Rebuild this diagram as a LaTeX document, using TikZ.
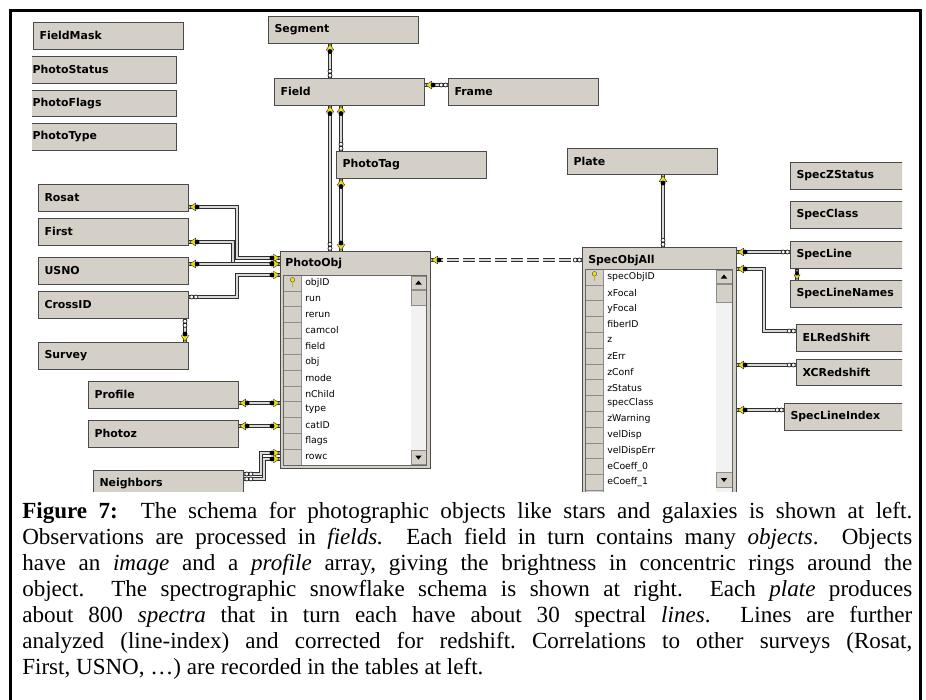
\documentclass[tikz,border=0pt]{standalone}
\usepackage{fontspec}
\setmainfont{Liberation Serif}
\newfontfamily\tblfont{DejaVu Sans}
\usetikzlibrary{calc}
\definecolor{boxgray}{HTML}{D4D0C8}
\definecolor{keyyel}{HTML}{F0E010}
\definecolor{edgegray}{HTML}{4A4A4A}
\newcommand\tblbold{\tblfont\bfseries\fontsize{8.2}{10}\selectfont}
\newcommand\tblrow{\tblfont\fontsize{7}{8}\selectfont}
\tikzset{
  tbl/.style={draw=edgegray, line width=0.8pt, fill=boxgray, anchor=north west,
    minimum height=19.875pt, text width=103.5pt, inner xsep=4.5pt, inner ysep=0pt,
    align=left, font=\tblbold},
  bigtbl/.style={draw=edgegray, line width=0.8pt, fill=boxgray, anchor=north west, inner sep=0pt},
  conn/.style={draw=black!82, line width=0.65pt, double=black!15, double distance=1.3pt},
  rowtxt/.style={anchor=west, inner sep=0pt, font=\tblrow},
  cell/.style={fill=boxgray, draw=black!45, line width=0.4pt},
  keyend/.pic={
    \filldraw[fill=keyyel, draw=black!80, line width=0.3pt] (0.6,0) -- (6.5,-3.8) -- (6.5,3.8) -- cycle;
    \filldraw[fill=black, draw=black] (8,0) circle (2.1);
  },
  infend/.pic={
    \filldraw[fill=white, draw=black!85, line width=0.55pt] (2.6,0) circle (2) (6.8,0) circle (2);
  },
  keyicon/.pic={
    \filldraw[fill=keyyel, draw=black!70, line width=0.3pt] (0,-2.2) circle (2.3);
    \fill[keyyel!80!black] (-0.7,-0.2) rectangle (0.7,4.5);
  }
}
\begin{document}
\begin{tikzpicture}[x=0.75pt,y=-0.75pt]
\useasboundingbox (0,0) rectangle (926,700);
\fill[white] (0,0) rectangle (926,700);
\begin{scope}
\clip (32,12) rectangle (902,491);
% simple tables
\node[tbl] (fieldmask) at (33,22) {FieldMask};
\node[tbl] (photostatus) at (26,56) {PhotoStatus};
\node[tbl] (photoflags) at (26,89.5) {PhotoFlags};
\node[tbl] (phototype) at (26,123) {PhotoType};
\node[tbl] (segment) at (268,16) {Segment};
\node[tbl] (field) at (274,78) {Field};
\node[tbl] (frame) at (448,78) {Frame};
\node[tbl] (phototag) at (336,151) {PhotoTag};
\node[tbl] (plate) at (567,147.5) {Plate};
\node[tbl] (rosat) at (38,184) {Rosat};
\node[tbl] (first) at (38,218) {First};
\node[tbl] (usno) at (38,257) {USNO};
\node[tbl] (crossid) at (38,291) {CrossID};
\node[tbl] (survey) at (38,342) {Survey};
\node[tbl] (profile) at (88,381) {Profile};
\node[tbl] (photoz) at (88,420) {Photoz};
\node[tbl] (neighbors) at (93,470) {Neighbors};
\node[tbl] (speczstatus) at (790,162) {SpecZStatus};
\node[tbl] (specclass) at (790,201) {SpecClass};
\node[tbl] (specline) at (790,241) {SpecLine};
\node[tbl] (speclinenames) at (790,280) {SpecLineNames};
\node[tbl] (elredshift) at (796,324) {ELRedShift};
\node[tbl] (xcredshift) at (796,358.5) {XCRedshift};
\node[tbl] (speclineindex) at (784,403) {SpecLineIndex};
% PhotoObj table
\node[bigtbl, minimum width=112.5pt, minimum height=162.75pt] (photoobj) at (280,251) {};
\node[anchor=west, inner sep=0pt, font=\tblbold] (photoobjtitle) at (285,264) {PhotoObj};
\fill[white] (302,275) rectangle (411,465);
\foreach \i in {0,...,11} \draw[cell] (283.5,{275+15.83*\i}) rectangle (301.5,{275+15.83*(\i+1)});
\fill[black!5] (411,275) rectangle (426,465);
\draw[cell] (411,276) rectangle (426,289);
\draw[cell] (411,290) rectangle (426,305);
\draw[cell] (411,450) rectangle (426,464);
\fill (418.5,280.5) -- (415.3,284.5) -- (421.7,284.5) -- cycle;
\fill (418.5,459.5) -- (415.3,455.5) -- (421.7,455.5) -- cycle;
\draw[black!60, line width=0.5pt] (283.5,275) rectangle (426,465);
\pic at (292.5,282) {keyicon};
\foreach \t [count=\i from 0] in {objID,run,rerun,camcol,field,obj,mode,nChild,type,catID,flags,rowc}
  \node[rowtxt] (po\i) at (305,{282.9+15.83*\i}) {\t};
% SpecObjAll table
\node[bigtbl, minimum width=115.5pt, minimum height=195pt] (specobjall) at (582,247) {};
\node[anchor=west, inner sep=0pt, font=\tblbold] (specobjalltitle) at (588,261) {SpecObjAll};
\fill[white] (604,269) rectangle (716,510);
\foreach \i in {0,...,14} \draw[cell] (585.5,{269+15.8*\i}) rectangle (603.5,{269+15.8*(\i+1)});
\fill[black!5] (716,269) rectangle (732,510);
\draw[cell] (716,270) rectangle (732,283);
\draw[cell] (716,284) rectangle (732,302);
\draw[cell] (716,472) rectangle (732,487);
\fill (724,274.5) -- (720.8,278.5) -- (727.2,278.5) -- cycle;
\fill (724,482) -- (720.8,478) -- (727.2,478) -- cycle;
\draw[black!60, line width=0.5pt] (585.5,269) rectangle (732,510);
\pic at (594.5,276) {keyicon};
\foreach \t [count=\i from 0] in {specObjID,xFocal,yFocal,fiberID,z,zErr,zConf,zStatus,specClass,zWarning,velDisp,velDispErr,eCoeff\_0,eCoeff\_1}
  \node[rowtxt] (so\i) at (607,{277+15.8*\i}) {\t};
% connector end points
\coordinate (c1a) at ($(segment.south west)+(62,0)$);
\coordinate (c1b) at ($(field.north west)+(56,0)$);
\coordinate (c2a) at ($(field.north east)+(0,7)$);
\coordinate (c2b) at ($(frame.north west)+(0,7)$);
\coordinate (c3a) at ($(field.south west)+(56,0)$);
\coordinate (c3b) at ($(photoobj.north west)+(50,0)$);
\coordinate (c4a) at ($(field.south west)+(67,0)$);
\coordinate (c4b) at ($(phototag.north west)+(5,0)$);
\coordinate (c5a) at ($(phototag.south west)+(5,0)$);
\coordinate (c5b) at ($(photoobj.north west)+(61,0)$);
\coordinate (c6a) at ($(rosat.north east)+(0,23)$);
\coordinate (c6b) at ($(photoobj.north west)+(0,7)$);
\coordinate (c7a) at ($(first.north east)+(0,24)$);
\coordinate (c7b) at ($(photoobj.north west)+(0,12.5)$);
\coordinate (c8a) at ($(usno.north east)+(0,7)$);
\coordinate (c8b) at ($(photoobj.north west)+(0,13)$);
\coordinate (c9a) at ($(crossid.north east)+(0,6)$);
\coordinate (c9b) at ($(photoobj.north west)+(0,24)$);
\coordinate (c10a) at ($(crossid.south west)+(147,0)$);
\coordinate (c10b) at ($(survey.north west)+(147,0)$);
\coordinate (c11a) at ($(profile.north east)+(0,22)$);
\coordinate (c11b) at ($(photoobj.north west)+(0,152)$);
\coordinate (c12a) at ($(photoz.north east)+(0,6)$);
\coordinate (c12b) at ($(photoobj.north west)+(0,175)$);
\coordinate (c13a) at ($(neighbors.north east)+(0,4)$);
\coordinate (c13b) at ($(photoobj.north west)+(0,202)$);
\coordinate (c14a) at ($(neighbors.north east)+(0,9)$);
\coordinate (c14b) at ($(photoobj.north west)+(0,208)$);
\coordinate (c15a) at ($(photoobj.north east)+(0,9)$);
\coordinate (c15b) at ($(specobjall.north west)+(0,13)$);
\coordinate (c16a) at ($(plate.south west)+(96,0)$);
\coordinate (c16b) at ($(specobjall.north west)+(81,0)$);
\coordinate (c17a) at ($(specobjall.north east)+(0,5)$);
\coordinate (c17b) at ($(specline.north west)+(0,11)$);
\coordinate (c18a) at ($(specline.south west)+(7,0)$);
\coordinate (c18b) at ($(speclinenames.north west)+(7,0)$);
\coordinate (c19a) at ($(specobjall.north east)+(0,22)$);
\coordinate (c19b) at ($(elredshift.north west)+(0,7)$);
\coordinate (c20a) at ($(specobjall.north east)+(0,118)$);
\coordinate (c20b) at ($(xcredshift.north west)+(0,6.5)$);
\coordinate (c21a) at ($(specobjall.north east)+(0,163)$);
\coordinate (c21b) at ($(speclineindex.north west)+(0,7)$);
% connectors
\draw[conn] (c1a) -- (c1b);
\draw[conn] (c2a) -- (c2b);
\draw[conn] (c3a) -- (c3b);
\draw[conn] (c4a) -- (c4b);
\draw[conn] (c5a) -- (c5b);
\draw[conn] (c6a) -- ++(48,0) |- (c6b);
\draw[conn] (c7a) -- ++(44,0) |- (c7b);
\draw[conn] (c8a) -- (c8b);
\draw[conn] (c9a) -- ++(48,0) |- (c9b);
\draw[conn] (c10a) -- (c10b);
\draw[conn] (c11a) -- (c11b);
\draw[conn] (c12a) -- (c12b);
\draw[conn] (c13a) -- ++(17,0) |- (c13b);
\draw[conn] (c14a) -- ++(20,0) |- (c14b);
\draw[conn, dash pattern=on 9pt off 3pt] (c15a) -- (c15b);
\draw[conn] (c16a) -- (c16b);
\draw[conn] (c17a) -- (c17b);
\draw[conn] (c18a) -- (c18b);
\draw[conn] (c19a) -- ++(27,0) |- (c19b);
\draw[conn] (c20a) -- (c20b);
\draw[conn] (c21a) -- (c21b);
% end symbols
\pic[rotate=-90] at (c1a) {keyend};  \pic[rotate=90] at (c1b) {infend};
\pic at (c2a) {keyend};              \pic[rotate=180] at (c2b) {infend};
\pic[rotate=-90] at (c3a) {keyend};  \pic[rotate=90] at (c3b) {infend};
\pic[rotate=-90] at (c4a) {keyend};  \pic[rotate=90] at (c4b) {infend};
\pic[rotate=-90] at (c5a) {keyend};  \pic[rotate=90] at (c5b) {keyend};
\pic at (c6a) {keyend};  \pic[rotate=180] at (c6b) {keyend};
\pic at (c7a) {keyend};  \pic[rotate=180] at (c7b) {keyend};
\pic at (c8a) {keyend};  \pic[rotate=180] at (c8b) {keyend};
\pic at (c9a) {infend};  \pic[rotate=180] at (c9b) {keyend};
\pic[rotate=-90] at (c10a) {infend};  \pic[rotate=90] at (c10b) {keyend};
\pic at (c11a) {keyend};  \pic[rotate=180] at (c11b) {keyend};
\pic at (c12a) {keyend};  \pic[rotate=180] at (c12b) {keyend};
\pic at (c13a) {infend};  \pic[rotate=180] at (c13b) {keyend};
\pic at (c14a) {infend};  \pic[rotate=180] at (c14b) {keyend};
\pic at (c15a) {keyend};  \pic[rotate=180] at (c15b) {infend};
\pic[rotate=-90] at (c16a) {keyend};  \pic[rotate=90] at (c16b) {infend};
\pic at (c17a) {keyend};  \pic[rotate=180] at (c17b) {infend};
\pic[rotate=-90, scale=0.7] at (c18a) {infend};  \pic[rotate=90, scale=0.8] at (c18b) {keyend};
\pic at (c19a) {keyend};  \pic[rotate=180] at (c19b) {infend};
\pic at (c20a) {keyend};  \pic[rotate=180] at (c20b) {infend};
\pic at (c21a) {keyend};  \pic[rotate=180] at (c21b) {infend};
\end{scope}
% outer frame
\draw[line width=2.2pt] (10.5,700) -- (10.5,10.5) -- (920.5,10.5) -- (920.5,700);
% caption
\node[anchor=north west, inner sep=0pt, text width=667.5pt, align=justify,
      font=\fontsize{17.3}{19.5}\selectfont\frenchspacing] (caption) at (22,502) {%
\textbf{Figure 7:}\ \ The schema for photographic objects like stars and galaxies is shown at left.\linebreak
Observations are processed in \textit{fields.}\ \ Each field in turn contains many \textit{objects}.\ \ Objects\linebreak
have an \textit{image} and a \textit{profile} array, giving the brightness in concentric rings around the\linebreak
object.\ \ The spectrographic snowflake schema is shown at right.\ \ Each \textit{plate} produces\linebreak
about 800 \textit{spectra} that in turn each have about 30 spectral \textit{lines}.\ \ Lines are further\linebreak
analyzed (line-index) and corrected for redshift. Correlations to other surveys (Rosat,\linebreak
First, USNO, …) are recorded in the tables at left.};
\end{tikzpicture}
\end{document}
